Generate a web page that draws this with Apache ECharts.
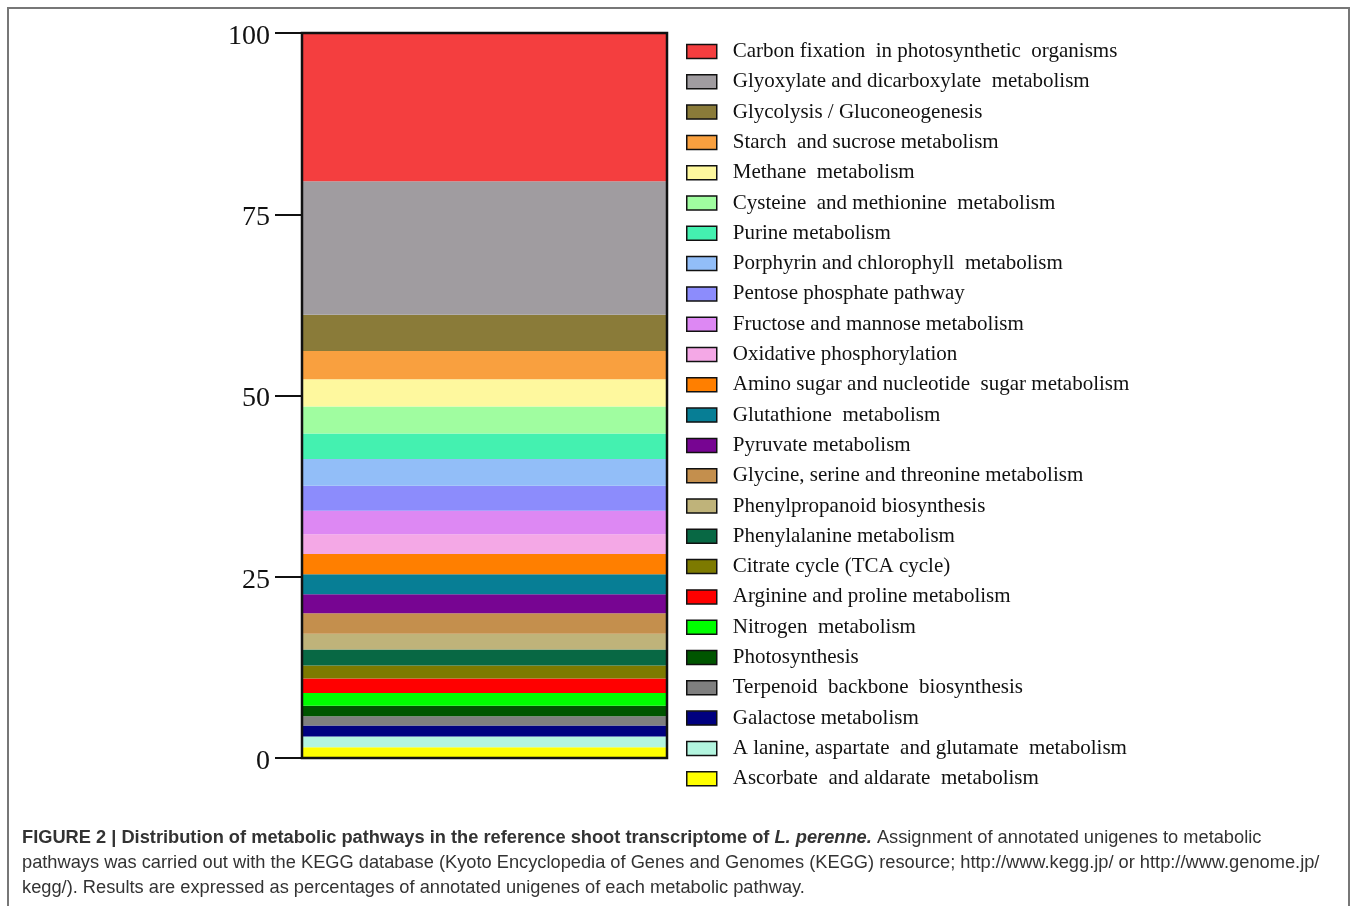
<!DOCTYPE html>
<html>
<head>
<meta charset="utf-8">
<script src="https://cdn.jsdelivr.net/npm/echarts@6/dist/echarts.min.js"></script>
<style>
html,body{margin:0;padding:0;background:#fff;}
#chart{width:1357px;height:906px;}
</style>
</head>
<body>
<div id="chart"></div>
<script>
// Pathways listed top (legend order) to bottom
const pathways = [
  'Carbon fixation  in photosynthetic  organisms',
  'Glyoxylate and dicarboxylate  metabolism',
  'Glycolysis / Gluconeogenesis',
  'Starch  and sucrose metabolism',
  'Methane  metabolism',
  'Cysteine  and methionine  metabolism',
  'Purine metabolism',
  'Porphyrin and chlorophyll  metabolism',
  'Pentose phosphate pathway',
  'Fructose and mannose metabolism',
  'Oxidative phosphorylation',
  'Amino sugar and nucleotide  sugar metabolism',
  'Glutathione  metabolism',
  'Pyruvate metabolism',
  'Glycine, serine and threonine metabolism',
  'Phenylpropanoid biosynthesis',
  'Phenylalanine metabolism',
  'Citrate cycle (TCA cycle)',
  'Arginine and proline metabolism',
  'Nitrogen  metabolism',
  'Photosynthesis',
  'Terpenoid  backbone  biosynthesis',
  'Galactose metabolism',
  'A lanine, aspartate  and glutamate  metabolism',
  'Ascorbate  and aldarate  metabolism'
];
// Percentages of annotated unigenes (same order)
const percents = [20.4, 18.4, 5.0, 3.9, 3.75, 3.75, 3.5, 3.7, 3.45, 3.25, 2.7, 2.8, 2.75, 2.65, 2.8, 2.2, 2.2, 1.8, 2.0, 1.75, 1.45, 1.25, 1.55, 1.45, 1.5];
const colors = ['#F43E3F','#A09CA0','#8A7B39','#F9A03F','#FEF89E','#A0FDA0','#44F1B0','#92BEF8','#8C8CFC','#DD88F3','#F4A8E6','#FF7F00','#077E95','#770592','#C48F4D','#BFB37A','#086844','#7D7A00','#FF0000','#00FF00','#005500','#7F7F7F','#000080','#B3F5DF','#FFFF00'];
const categories = ['Pathways'];
const yTicks = [0, 25, 50, 75, 100];

const chart = echarts.init(document.getElementById('chart'));

// stack bottom-up: last listed pathway is at the bottom
const series = [];
for (let i = pathways.length - 1; i >= 0; i--) {
  series.push({
    name: pathways[i],
    type: 'bar',
    stack: 'total',
    barWidth: '100%',
    data: [percents[i]],
    itemStyle: { color: colors[i] },
    emphasis: { disabled: true }
  });
}

const capFont = '"Liberation Sans", Arial, Helvetica, sans-serif';
const capSize = 18.25;
const serif = '"Liberation Serif", "Times New Roman", serif';

chart.setOption({
  animation: false,
  backgroundColor: '#fff',
  grid: {
    left: 302, right: 690, top: 33, bottom: 148,
    show: true, borderColor: '#111', borderWidth: 2.5, backgroundColor: 'transparent', z: 10
  },
  xAxis: {
    type: 'category',
    data: categories,
    axisLine: { show: true, lineStyle: { color: '#111', width: 2 } },
    axisTick: { show: false },
    axisLabel: { show: false },
    splitLine: { show: false }
  },
  yAxis: {
    type: 'value',
    min: yTicks[0], max: yTicks[yTicks.length - 1], interval: 25,
    axisLine: { show: true, lineStyle: { color: '#111', width: 2 } },
    axisTick: { show: true, length: 27, lineStyle: { color: '#111', width: 2 } },
    axisLabel: {
      margin: 32,
      formatter: '{v|{value}}',
      rich: { v: { fontFamily: serif, fontSize: 28, color: '#111', padding: [7, 0, 0, 0] } }
    },
    splitLine: { show: false }
  },
  legend: {
    orient: 'vertical',
    left: 686, top: 41,
    padding: 0,
    data: pathways,
    icon: 'rect',
    itemWidth: 30, itemHeight: 14,
    itemGap: 9.3,
    itemStyle: { borderColor: '#111', borderWidth: 1.5 },
    textStyle: {
      fontFamily: serif,
      fontSize: 21, color: '#111', lineHeight: 20,
      padding: [0, 0, 0, 11]
    },
    selectedMode: false
  },
  graphic: [
    { type: 'rect', shape: { x: 8, y: 8, width: 1341, height: 920 }, style: { fill: 'none', stroke: '#777', lineWidth: 2 }, silent: true },
    {
      type: 'text', left: 22, top: 829,
      style: {
        text: '{b|FIGURE 2 | Distribution of metabolic pathways in the reference shoot transcriptome of }{bi|L. perenne.}{n| Assignment of annotated unigenes to metabolic}',
        rich: {
          b: { fontFamily: capFont, fontSize: capSize, fontWeight: 'bold', fill: '#333' },
          bi: { fontFamily: capFont, fontSize: capSize, fontWeight: 'bold', fontStyle: 'italic', fill: '#333' },
          n: { fontFamily: capFont, fontSize: capSize, fill: '#333' }
        }
      }
    },
    {
      type: 'text', left: 22, top: 854,
      style: { text: 'pathways was carried out with the KEGG database (Kyoto Encyclopedia of Genes and Genomes (KEGG) resource; http://www.kegg.jp/ or http://www.genome.jp/', fontFamily: capFont, fontSize: capSize, fill: '#333' }
    },
    {
      type: 'text', left: 22, top: 879,
      style: { text: 'kegg/). Results are expressed as percentages of annotated unigenes of each metabolic pathway.', fontFamily: capFont, fontSize: capSize, fill: '#333' }
    }
  ],
  series: series
});
</script>
</body>
</html>
